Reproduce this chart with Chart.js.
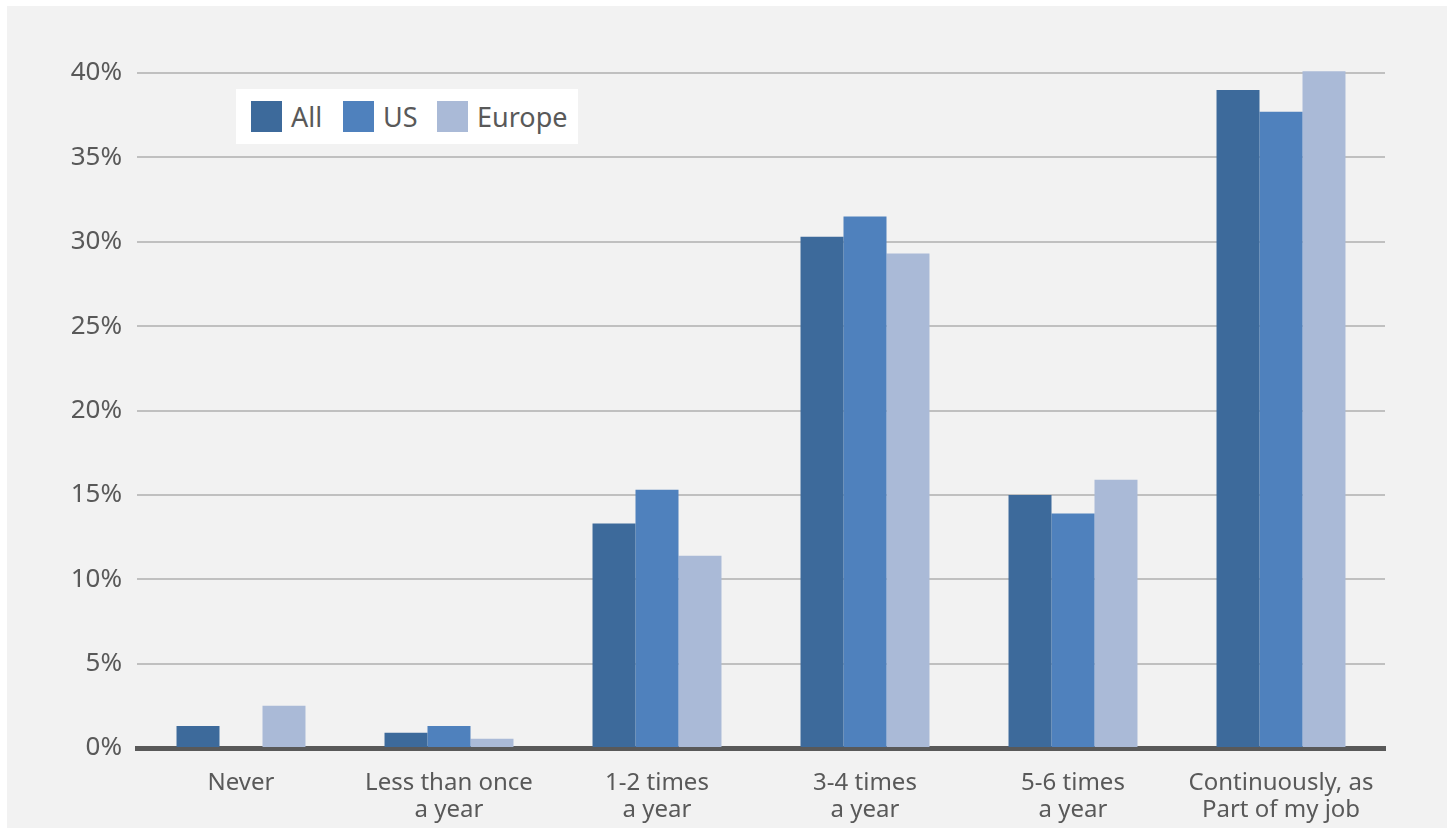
<!DOCTYPE html>
<html>
<head>
<meta charset="utf-8">
<script src="https://cdn.jsdelivr.net/npm/chart.js@4/dist/chart.umd.min.js"></script>
<style>
  body { margin: 0; background: #ffffff; font-family: "Noto Sans", sans-serif; }
  #panel { position: absolute; left: 7px; top: 6px; width: 1440px; height: 822px; background: #f2f2f2; }
  #panel canvas { position: absolute; left: 0; top: 0; }
  #legend {
    position: absolute; left: 229px; top: 83px; height: 55px; width: 342px;
    background: #ffffff; display: flex; align-items: center; box-sizing: border-box;
    padding-left: 15px; font-size: 27px; color: #595959;
  }
  #legend .item { display: flex; align-items: center; }
  #legend .item:nth-child(1) { width: 92px; }
  #legend .item:nth-child(2) { width: 94px; }
  #legend .box { width: 31px; height: 31px; margin-right: 9px; }
</style>
</head>
<body>
<div id="panel">
  <canvas id="chart" width="1440" height="822"></canvas>
  <div id="legend"></div>
</div>
<script>
// Survey categories and share of respondents (%)
const categories = [
    ['Never'],
    ['Less than once', 'a year'],
    ['1-2 times', 'a year'],
    ['3-4 times', 'a year'],
    ['5-6 times', 'a year'],
    ['Continuously, as', 'Part of my job']
];
const seriesNames = ['All', 'US', 'Europe'];
const allValues = [1.3, 0.9, 13.3, 30.3, 15.0, 39.0];
const usValues = [0, 1.3, 15.3, 31.5, 13.9, 37.7];
const europeValues = [2.5, 0.55, 11.4, 29.3, 15.9, 40.1];
const seriesColors = ['#3d6a9b', '#4f81bd', '#aabad7'];

const textColor = '#595959';
const fontFamily = '"Noto Sans", sans-serif';

const ctx = document.getElementById('chart').getContext('2d');

const datasets = [allValues, usValues, europeValues].map((values, i) => ({
    label: seriesNames[i],
    data: values,
    backgroundColor: seriesColors[i],
    borderWidth: 0,
    categoryPercentage: 0.62,
    barPercentage: 1.0,
    clip: false
}));

const chart = new Chart(ctx, {
    type: 'bar',
    data: { labels: categories, datasets: datasets },
    options: {
        responsive: false,
        animation: false,
        layout: { padding: { top: 67, right: 62, bottom: 0, left: 0 } },
        plugins: {
            legend: { display: false },
            tooltip: { enabled: false }
        },
        scales: {
            x: {
                grid: { display: false },
                border: { display: true, color: '#595959', width: 5 },
                ticks: {
                    color: textColor,
                    font: { family: fontFamily, size: 24, lineHeight: 1.12 },
                    padding: 14,
                    maxRotation: 0,
                    autoSkip: false
                },
                afterFit: (scale) => { scale.height = 80; }
            },
            y: {
                min: 0,
                max: 40,
                grid: {
                    color: (c) => c.tick && c.tick.value === 0 ? 'rgba(0,0,0,0)' : '#c0c0c0',
                    lineWidth: 2,
                    drawTicks: false
                },
                border: { display: false },
                ticks: {
                    stepSize: 5,
                    color: textColor,
                    font: { family: fontFamily, size: 26 },
                    padding: 15,
                    callback: (v) => v + '%'
                },
                afterFit: (scale) => { scale.width = 130; }
            }
        }
    }
});

// Legend box inside the plot area
const legendEl = document.getElementById('legend');
seriesNames.forEach((name, i) => {
    const item = document.createElement('div');
    item.className = 'item';
    const box = document.createElement('div');
    box.className = 'box';
    box.style.background = seriesColors[i];
    const label = document.createElement('span');
    label.textContent = name;
    item.appendChild(box);
    item.appendChild(label);
    legendEl.appendChild(item);
});
</script>
</body>
</html>
